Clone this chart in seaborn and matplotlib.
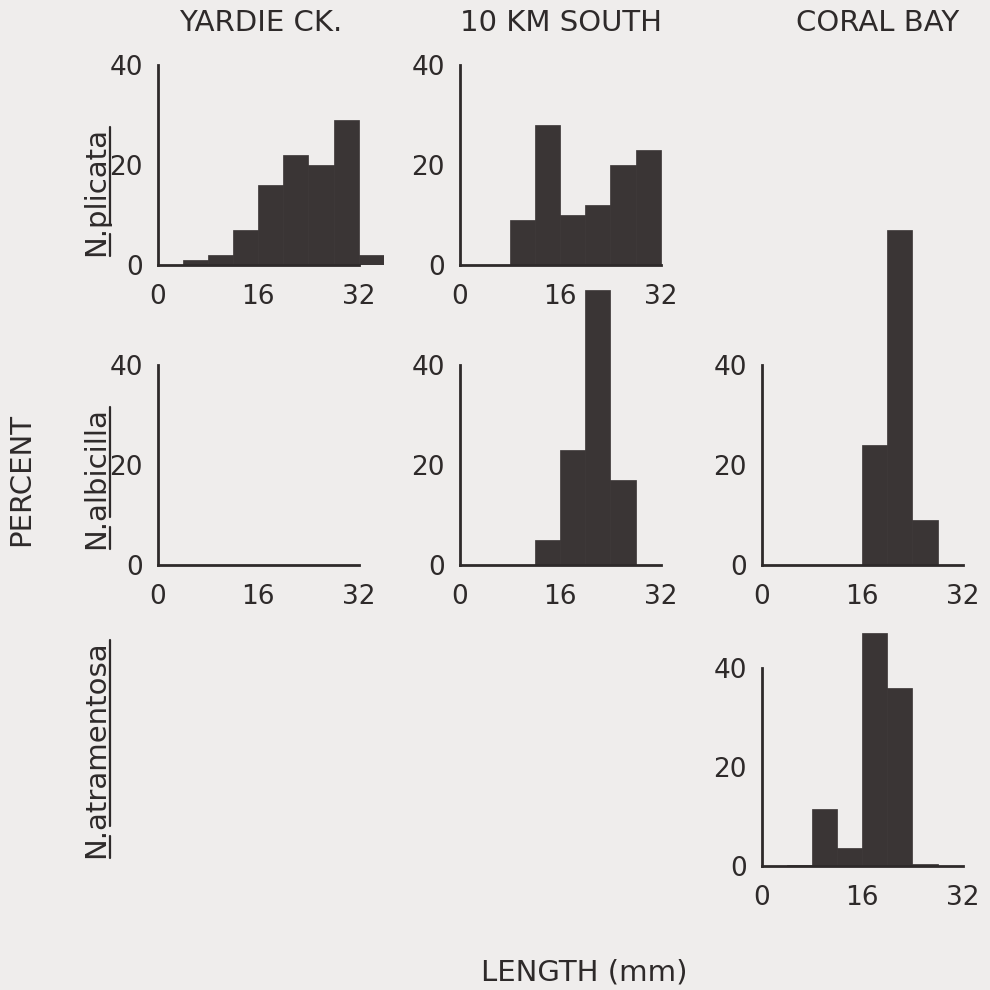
import numpy as np
import matplotlib
matplotlib.use("Agg")
import matplotlib.pyplot as plt
import seaborn as sns
from matplotlib.lines import Line2D

sns.set_theme(style="white")
plt.rcParams['font.family'] = ['DejaVu Sans']

# ---------------- data ----------------
bin_edges = [0, 4, 8, 12, 16, 20, 24, 28, 32, 36]
sites = ["YARDIE CK.", "10 KM SOUTH", "CORAL BAY"]
species = ["plicata", "albicilla", "atramentosa"]

yardie_plicata = [0, 1, 2, 7, 16, 22, 20, 29, 2]
south_plicata = [0, 0, 9, 28, 10, 12, 20, 23, 0]
yardie_albicilla = [0, 0, 0, 0, 0, 0, 0, 0, 0]
south_albicilla = [0, 0, 0, 5, 23, 55, 17, 0, 0]
coral_albicilla = [0, 0, 0, 0, 24, 67, 9, 0, 0]
coral_atramentosa = [0, 0.3, 11.5, 3.6, 47, 36, 0.5, 0, 0]

x_ticks = [0, 8, 16, 24, 32]
x_ticklabels = ["0", "", "16", "", "32"]
y_ticks = [0, 10, 20, 30, 40]
y_ticklabels = ["0", "", "20", "", "40"]

panels = [
    (0, 0, yardie_plicata),
    (0, 1, south_plicata),
    (1, 0, yardie_albicilla),
    (1, 1, south_albicilla),
    (1, 2, coral_albicilla),
    (2, 2, coral_atramentosa),
]

# ---------------- style ----------------
BG = "#efedec"
INK = "#2e2a2a"
BAR = "#3a3535"
FS_TICK = 19
FS_TXT = 21
W = H = 990

fig = plt.figure(figsize=(9.9, 9.9), dpi=100, facecolor=BG)

col_left = [158, 460, 762]
row_base = [265, 565, 866]
px_mm = 6.27
px_pct = [5.0, 5.0, 4.95]

centers = [(a + b) / 2 for a, b in zip(bin_edges[:-1], bin_edges[1:])]

for r, c, vals in panels:
    w = 36 * px_mm
    h = 70 * px_pct[r]
    ax = fig.add_axes([col_left[c] / W, (H - row_base[r]) / H, w / W, h / H])
    ax.set_facecolor("none")
    if sum(vals) > 0:
        sns.histplot(x=centers, weights=vals, bins=bin_edges, ax=ax,
                     color=BAR, alpha=1, edgecolor=BAR, linewidth=0.5)
    ax.set_xlim(0, 36)
    ax.set_ylim(0, 70)
    ax.set_xlabel("")
    ax.set_ylabel("")
    for s in ["top", "right"]:
        ax.spines[s].set_visible(False)
    for s in ["left", "bottom"]:
        ax.spines[s].set_color(INK)
        ax.spines[s].set_linewidth(2)
    ax.spines["bottom"].set_bounds(0, 32)
    ax.spines["left"].set_bounds(0, 40)
    ax.set_xticks(x_ticks)
    ax.set_xticklabels(x_ticklabels)
    ax.set_yticks(y_ticks)
    ax.set_yticklabels(y_ticklabels)
    ax.tick_params(axis="both", direction="out", length=6, width=2,
                   color=INK, labelcolor=INK, labelsize=FS_TICK)
    ax.tick_params(axis="x", pad=8)
    ax.tick_params(axis="y", pad=5)
    ax.grid(False)

# column titles
title_x = [261, 561, 878]
for t, x in zip(sites, title_x):
    fig.text(x / W, 1 - 23 / H, t, ha="center", va="center",
             fontsize=FS_TXT, color=INK)

# axis titles
fig.text(21 / W, 1 - 480 / H, "PERCENT", rotation=90, ha="center",
         va="center", fontsize=FS_TXT, color=INK)
fig.text(584 / W, 1 - 986 / H, "LENGTH (mm)", ha="center", va="bottom",
         fontsize=FS_TXT, color=INK)

# species labels with underlines
renderer = fig.canvas.get_renderer()
def text_width(s):
    t = fig.text(0, 0, s, fontsize=FS_TXT)
    bb = t.get_window_extent(renderer=renderer)
    t.remove()
    return bb.width

sp_center_y = [191, 478, 749]
base_x = 104
for sp, cy in zip(species, sp_center_y):
    full = "N." + sp
    fig.text(base_x / W, 1 - cy / H, full, rotation=90, rotation_mode="anchor",
             ha="center", va="baseline", fontsize=FS_TXT, color=INK)
    wf = text_width(full)
    wn = text_width("N")
    wnd = text_width("N.")
    y0 = cy + wf / 2  # bottom of text (pixel y from top)
    ux = (base_x + 6) / W
    fig.add_artist(Line2D([ux, ux], [1 - y0 / H, 1 - (y0 - wn) / H],
                          color=INK, lw=1.6))
    fig.add_artist(Line2D([ux, ux], [1 - (y0 - wnd - 1) / H, 1 - (cy - wf / 2) / H],
                          color=INK, lw=1.6))

fig.savefig("out.png", dpi=100, facecolor=BG)
